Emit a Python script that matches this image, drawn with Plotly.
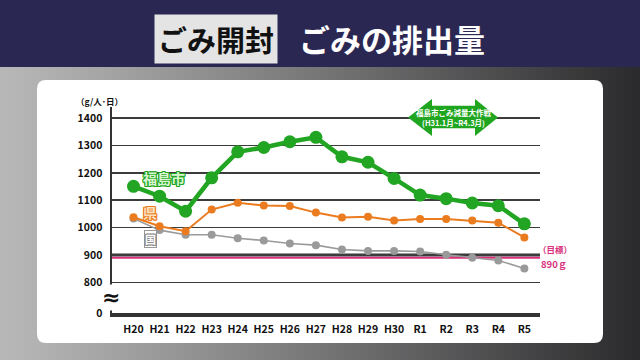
import plotly.graph_objects as go

# ---------------- data ----------------
years = ["H20", "H21", "H22", "H23", "H24", "H25", "H26", "H27",
         "H28", "H29", "H30", "R1", "R2", "R3", "R4", "R5"]
fukushima_city = [1151, 1115, 1060, 1182, 1277, 1293, 1314, 1330,
                  1259, 1239, 1180, 1119, 1106, 1090, 1080, 1014]
prefecture = [1038, 1005, 987, 1066, 1091, 1081, 1079, 1055,
              1037, 1040, 1026, 1032, 1032, 1026, 1018, 964]
national = [1033, 991, 974, 974, 961, 953, 942, 936,
            920, 915, 915, 913, 901, 890, 880, 851]
target_value = 890
y_tick_vals = [688, 800, 900, 1000, 1100, 1200, 1300, 1400]
y_tick_text = ["0", "800", "900", "1000", "1100", "1200", "1300", "1400"]

# ---------------- geometry helpers ----------------
FW, FH = 640, 360
L, R, T, B = 112, 540, 107, 313
PW, PH = R - L, B - T


def px(x):
    return (x - L) / PW


def py(y):
    return (B - y) / PH


GREEN = "#22a522"
ORANGE = "#ea7b1f"
GRAY = "#9a9a9a"
PINK = "#d8307c"
DARK = "#333333"
FONT = "Noto Sans CJK JP"

fig = go.Figure()

fig.add_trace(go.Scatter(x=years, y=national, mode="lines+markers",
                         line=dict(color=GRAY, width=1.6),
                         marker=dict(color=GRAY, size=8), name="国"))
fig.add_trace(go.Scatter(x=years, y=prefecture, mode="lines+markers",
                         line=dict(color=ORANGE, width=2),
                         marker=dict(color=ORANGE, size=8), name="県"))
fig.add_trace(go.Scatter(x=years, y=fukushima_city, mode="lines+markers",
                         line=dict(color=GREEN, width=4.5),
                         marker=dict(color=GREEN, size=13), name="福島市"))

shapes = []
# navy header band
shapes.append(dict(type="rect", xref="paper", yref="paper",
                   x0=px(0), x1=px(FW), y0=py(0), y1=py(67),
                   fillcolor="#2b2753", line=dict(width=0), layer="below"))


# gradient background (strips)
def lerp(c1, c2, t):
    return "#%02x%02x%02x" % tuple(int(round(a + (b - a) * t)) for a, b in zip(c1, c2))


c_left = (0xb8, 0xb8, 0xb8)
c_right = (0x2a, 0x2a, 0x2c)
step = 8
for i in range(0, FW, step):
    t = (i + step / 2) / FW
    t = t ** 1.1
    shapes.append(dict(type="rect", xref="paper", yref="paper",
                       x0=px(i), x1=px(i + step + 0.6), y0=py(67), y1=py(FH),
                       fillcolor=lerp(c_left, c_right, t), line=dict(width=0),
                       layer="below"))

# white rounded panel
x0, x1, y0, y1, r = 37, 603, 80, 343, 9
rx, ry = r / PW, r / PH
X0, X1, Y0, Y1 = px(x0), px(x1), py(y1), py(y0)
panel = (f"M {X0+rx},{Y0} L {X1-rx},{Y0} Q {X1},{Y0} {X1},{Y0+ry} "
         f"L {X1},{Y1-ry} Q {X1},{Y1} {X1-rx},{Y1} L {X0+rx},{Y1} "
         f"Q {X0},{Y1} {X0},{Y1-ry} L {X0},{Y0+ry} Q {X0},{Y0} {X0+rx},{Y0} Z")
shapes.append(dict(type="path", xref="paper", yref="paper", path=panel,
                   fillcolor="white", line=dict(width=0), layer="below"))

# thick 900 line and pink target line
shapes.append(dict(type="line", xref="paper", yref="y", x0=0, x1=1, y0=900, y1=900,
                   line=dict(color=DARK, width=3.2), layer="between"))
shapes.append(dict(type="line", xref="paper", yref="y", x0=0, x1=1,
                   y0=target_value, y1=target_value,
                   line=dict(color=PINK, width=1.8), layer="between"))

# green double arrow
pts = [(408, 117.5), (432, 99), (432, 105.7), (475, 105.7), (475, 99),
       (498, 117.5), (475, 136), (475, 128.3), (432, 128.3), (432, 136)]
arrow = "M " + " L ".join(f"{px(a)},{py(b)}" for a, b in pts) + " Z"
shapes.append(dict(type="path", xref="paper", yref="paper", path=arrow,
                   fillcolor="#1fa51f", line=dict(width=0), layer="above"))

annotations = []


def ann(x, y, text, font, **kw):
    d = dict(xref="paper", yref="paper", x=px(x), y=py(y), text=text,
             showarrow=False, xanchor="center", yanchor="middle", font=font)
    d.update(kw)
    annotations.append(d)


# title
ann(216, 39, "ごみ開封", dict(family=FONT, size=29, color="#111111", weight="bold"),
    bgcolor="#e4e4e4", borderpad=3)
ann(392, 39, "ごみの排出量", dict(family=FONT, size=31, color="white", weight="bold"))
# unit
ann(99, 101, "（g/人･日）", dict(family=FONT, size=8.5, color="#111111", weight="bold"))
# axis break
ann(111, 297, "≈", dict(family="DejaVu Sans", size=22, color="#111111", weight="bold"),
    bgcolor="white", borderpad=0)


def outline(c):
    return (f"1px 0 {c}, -1px 0 {c}, 0 1px {c}, 0 -1px {c}, "
            f"1px 1px {c}, -1px -1px {c}, 1px -1px {c}, -1px 1px {c}")


# series labels
ann(164, 178, "福島市", dict(family=FONT, size=14, color="#d8f5d0", weight="bold",
                           shadow=outline(GREEN)))
ann(150, 212, "県", dict(family=FONT, size=14, color="#fde0c0", weight="bold",
                        shadow=outline(ORANGE)))
ann(150, 239, "国", dict(family=FONT, size=11, color="white", weight="bold",
                        shadow=outline("#8a8a8a")),
    bgcolor="white", bordercolor="#999999", borderwidth=1, borderpad=0)
# target label
ann(555, 249, "（目標）", dict(family=FONT, size=8.5, color=PINK, weight="bold"))
ann(554, 264, "890ｇ", dict(family=FONT, size=9.5, color=PINK, weight="bold"))
# arrow text
ann(453, 117.5, "福島市ごみ減量大作戦<br>(H31.1月~R4.3月)",
    dict(family=FONT, size=7.5, color="white", weight="bold"))

fig.update_layout(
    width=FW, height=FH,
    margin=dict(l=L, r=FW - R, t=T, b=FH - B, pad=0),
    paper_bgcolor="#2a2a2c",
    plot_bgcolor="rgba(0,0,0,0)",
    showlegend=False,
    hovermode=False,
    shapes=shapes,
    annotations=annotations,
    xaxis=dict(type="category", range=[-0.825, 15.6], showgrid=False,
               showline=True, linecolor=DARK, linewidth=4,
               ticks="outside", ticklen=3, tickcolor="rgba(0,0,0,0)",
               tickfont=dict(family=FONT, size=10.5, color="#111111", weight="bold"),
               fixedrange=True),
    yaxis=dict(range=[688, 1441], tickvals=y_tick_vals, ticktext=y_tick_text,
               showgrid=True, gridcolor="#3c3c3c", gridwidth=1.6,
               showline=True, linecolor=DARK, linewidth=2.5, zeroline=False,
               ticks="outside", ticklen=5, tickcolor="rgba(0,0,0,0)",
               tickfont=dict(family=FONT, size=10.5, color="#111111", weight="bold"),
               fixedrange=True),
)

fig.write_html("out.html",
               config={"displayModeBar": False, "staticPlot": True},
               post_script="document.body.style.margin='0px';"
                           "document.body.style.padding='0px';"
                           "document.body.style.overflow='hidden';")
